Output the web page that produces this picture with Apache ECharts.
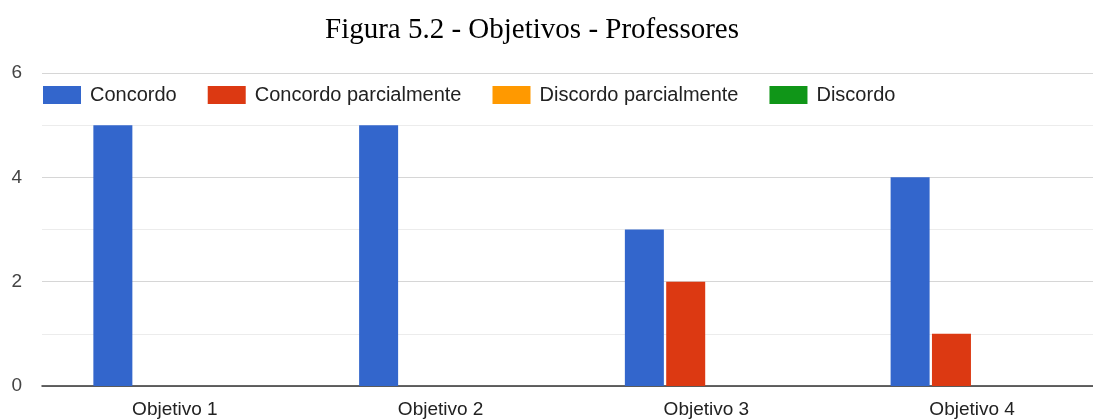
<!DOCTYPE html>
<html>
<head>
<meta charset="utf-8">
<script src="https://cdn.jsdelivr.net/npm/echarts@6/dist/echarts.min.js"></script>
<style>
  html, body { margin: 0; padding: 0; background: #fff; }
  #chart { width: 1093px; height: 419px; }
</style>
</head>
<body>
<div id="chart"></div>
<script>
// dados do gráfico
const categorias = ["Objetivo 1", "Objetivo 2", "Objetivo 3", "Objetivo 4"];
const concordo = [5, 5, 3, 4];
const concordoParcial = [0, 0, 2, 1];
const discordoParcial = [0, 0, 0, 0];
const discordo = [0, 0, 0, 0];

const cores = ["#3366cc", "#dc3912", "#ff9900", "#109618"];

const chart = echarts.init(document.getElementById("chart"));

const mkSerie = (nome, dados, i) => ({
  name: nome,
  type: "bar",
  data: dados,
  barWidth: 39,
  barGap: "6%",
  itemStyle: { color: cores[i] },
});

chart.setOption({
  animation: false,
  color: cores,
  title: {
    text: "Figura 5.2 - Objetivos - Professores",
    left: 320,
    top: 11,
    textStyle: {
      fontFamily: "Liberation Serif",
      fontWeight: "normal",
      fontSize: 29,
      color: "#000",
    },
  },
  legend: {
    left: 43,
    top: 85,
    padding: 0,
    itemWidth: 38,
    itemHeight: 18,
    itemGap: 31,
    icon: "rect",
    textStyle: {
      fontFamily: "Liberation Sans",
      fontSize: 20,
      color: "#222",
      padding: [0, 0, 0, 4],
    },
  },
  grid: { left: 42, width: 1063, top: 73, bottom: 33, outerBoundsMode: "none" },
  xAxis: {
    type: "category",
    data: categorias,
    axisTick: { show: false },
    axisLine: { lineStyle: { color: "#333", width: 1.5 } },
    axisLabel: {
      margin: 14,
      fontFamily: "Liberation Sans",
      fontSize: 19,
      color: "#222",
    },
  },
  yAxis: {
    type: "value",
    min: 0,
    max: 6,
    interval: 2,
    axisLabel: {
      margin: 20,
      fontFamily: "Liberation Sans",
      fontSize: 19,
      color: "#444",
    },
    splitLine: { lineStyle: { color: "#d6d6d6" } },
    minorTick: { show: false, splitNumber: 2 },
    minorSplitLine: { show: true, lineStyle: { color: "#ececec" } },
  },
  series: [
    mkSerie("Concordo", concordo, 0),
    mkSerie("Concordo parcialmente", concordoParcial, 1),
    mkSerie("Discordo parcialmente", discordoParcial, 2),
    mkSerie("Discordo", discordo, 3),
  ],
});
</script>
</body>
</html>
